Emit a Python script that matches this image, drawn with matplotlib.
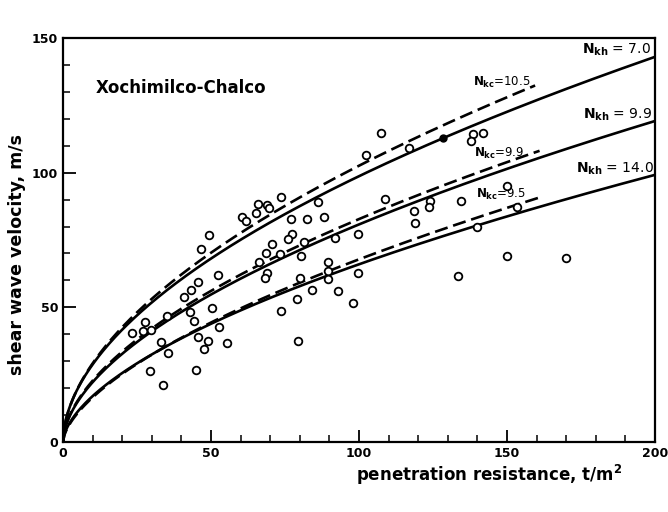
import numpy as np
import matplotlib
matplotlib.use("Agg")
import matplotlib.pyplot as plt
from matplotlib.ticker import MultipleLocator

plt.rcParams['font.family'] = ['DejaVu Sans']
plt.rcParams['mathtext.fontset'] = 'dejavusans'
plt.rcParams['mathtext.default'] = 'bf'

# ---- data ----
q_pts = [66.0, 60.4, 61.8, 65.2, 49.4, 46.6, 52.5, 45.7, 43.2, 41.0,
         50.4, 42.9, 35.0, 44.4, 27.7, 23.2, 27.1, 29.6, 52.8, 33.0,
         45.5, 48.9, 47.6, 35.6, 55.5, 29.4, 44.8, 33.9, 66.3, 73.6,
         68.8, 69.7, 76.9, 82.5, 88.3, 86.0, 77.3, 76.1, 70.5, 81.5,
         91.9, 68.6, 73.3, 80.4, 68.8, 68.2, 80.1, 89.4, 89.6, 89.6,
         84.2, 93.0, 79.2, 73.6, 79.3, 98.0, 107.4, 102.5, 108.8, 117.0,
         138.4, 137.9, 142.0, 124.0, 123.6, 118.6, 134.4, 118.8, 99.8, 99.8,
         133.3, 140.0, 149.9, 153.5, 149.9, 169.9]
v_pts = [88.4, 83.7, 82.2, 84.9, 77.0, 71.6, 62.0, 59.5, 56.4, 54.0,
         49.6, 48.4, 46.9, 44.9, 44.7, 40.6, 41.2, 41.6, 42.6, 37.2,
         38.9, 37.6, 34.5, 33.2, 36.9, 26.4, 26.7, 21.2, 67.0, 91.1,
         88.0, 86.8, 82.8, 82.7, 83.7, 89.0, 77.1, 75.3, 73.5, 74.3,
         75.6, 70.1, 69.7, 69.2, 62.9, 60.8, 61.0, 66.7, 63.6, 60.5,
         56.4, 56.0, 53.0, 48.8, 37.5, 51.5, 114.6, 106.5, 90.2, 109.3,
         114.4, 111.8, 114.9, 89.5, 87.1, 85.8, 89.3, 81.2, 77.1, 62.9,
         61.8, 79.8, 94.9, 87.2, 69.2, 68.2]
q_filled = [128.3]
v_filled = [112.8]

# fitted relations v = a * q**b (solid: N_kh, dashed: N_kc)
solid_N = ["7.0", "9.9", "14.0"]
solid_a = [8.40, 6.10, 4.40]
solid_b = [0.535, 0.561, 0.588]
solid_qmax = [200, 200, 200]

dashed_N = ["10.5", "9.9", "9.5"]
dashed_a = [8.30, 6.25, 4.04]
dashed_b = [0.546, 0.561, 0.6125]
dashed_qmax = [159.5, 161.0, 161.0]

x_ticks = [0, 50, 100, 150, 200]
y_ticks = [0, 50, 100, 150]

# ---- figure ----
fig = plt.figure(figsize=(6.68, 5.12), dpi=100)
ax = fig.add_axes([63/668, 70/512, 592/668, 404/512])

for a, b, qm in zip(solid_a, solid_b, solid_qmax):
    q = np.linspace(0, qm, 400)
    ax.plot(q, a * q**b, color='black', lw=1.9, solid_capstyle='butt', zorder=3)
for a, b, qm in zip(dashed_a, dashed_b, dashed_qmax):
    q = np.linspace(0, qm, 400)
    ax.plot(q, a * q**b, color='black', lw=1.9, dashes=(5, 2.2), zorder=3)

ax.plot(q_pts, v_pts, linestyle='none', marker='o', ms=5.5, mfc='white',
        mec='black', mew=1.3, zorder=4)
ax.plot(q_filled, v_filled, linestyle='none', marker='o', ms=5, mfc='black',
        mec='black', zorder=4)

ax.set_xlim(0, 200)
ax.set_ylim(0, 150)
ax.set_xticks(x_ticks)
ax.set_yticks(y_ticks)
ax.xaxis.set_minor_locator(MultipleLocator(10))
ax.yaxis.set_minor_locator(MultipleLocator(10))
ax.tick_params(which='major', direction='in', length=9, width=1.3, labelsize=9)
ax.tick_params(which='minor', direction='in', length=5, width=1.1)
for lab in ax.get_xticklabels() + ax.get_yticklabels():
    lab.set_fontweight('bold')
for s in ax.spines.values():
    s.set_linewidth(1.6)

ax.set_xlabel('penetration resistance, t/m$^2$', fontsize=12, fontweight='bold',
              x=0.72, labelpad=2)
ax.set_ylabel('shear wave velocity, m/s', fontsize=12.5, fontweight='bold',
              y=0.465, labelpad=4)

ax.text(11, 131.5, 'Xochimilco-Chalco', fontsize=12, fontweight='bold', va='center')

ax.text(198.5, 145.5, r'$N_{kh}$ = ' + solid_N[0], fontsize=10, ha='right', va='center')
ax.text(199, 121.5, r'$N_{kh}$ = ' + solid_N[1], fontsize=10, ha='right', va='center')
ax.text(199.5, 101.5, r'$N_{kh}$ = ' + solid_N[2], fontsize=10, ha='right', va='center')

ax.text(138.5, 133.5, r'$N_{kc}$=' + dashed_N[0], fontsize=8.5, ha='left', va='center')
ax.text(139, 107.3, r'$N_{kc}$=' + dashed_N[1], fontsize=8.5, ha='left', va='center')
ax.text(139.5, 91.8, r'$N_{kc}$=' + dashed_N[2], fontsize=8.5, ha='left', va='center')

fig.savefig('out.png', dpi=100, facecolor='white')
